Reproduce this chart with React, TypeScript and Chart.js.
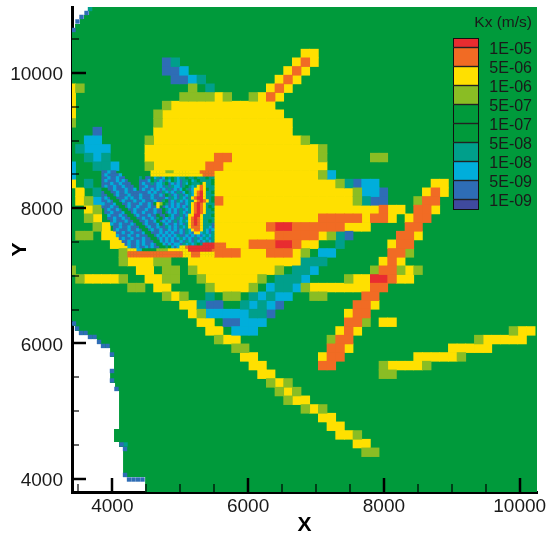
import React, { useEffect, useRef } from "react";
import { Chart, registerables } from "chart.js";

Chart.register(...registerables);

// ---- legend ----
const legendTitle = "Kx (m/s)";
const legendLabels = ["1E-05", "5E-06", "1E-06", "5E-07", "1E-07", "5E-08", "1E-08", "5E-09", "1E-09"];

// ---- colours ----
const RED = "#E82C30";
const ORANGE = "#F16B24";
const YELLOW = "#FFE000";
const OLIVE = "#8ABD24";
const GREEN = "#009A3B";
const TEAL = "#009F8B";
const CYAN = "#00AEDB";
const BLUE = "#2E6DB5";
const INDIGO = "#3F4A9E";
const legendColors = [RED, ORANGE, YELLOW, OLIVE, GREEN, GREEN, TEAL, CYAN, BLUE, INDIGO];

// ---- axes (metres) ----
const xMin = 3406;
const xMax = 10255;
const yMin = 3803;
const yMax = 10976;
const xTicks = [3500, 4000, 4500, 5000, 5500, 6000, 6500, 7000, 7500, 8000, 8500, 9000, 9500, 10000];
const yTicks = [4000, 4500, 5000, 5500, 6000, 6500, 7000, 7500, 8000, 8500, 9000, 9500, 10000, 10500];
const labelStep = 2000;

// ---- model grid (metres) ----
const gridX0 = 3459;
const gridY0 = 10993;
const cellW = 127.7;
const cellH = 128.2;

// ---- active model domain outline (metres) ----
const domainX = [3701, 10300, 10300, 4483, 4483, 4158, 4158, 4099, 4099, 4025, 4025, 4099, 4099, 4040, 4040, 3967, 3967, 4025, 4025, 3967, 3967, 3834, 3834, 3775, 3775, 3642, 3642, 3510, 3510, 3451, 3451, 3421, 3421, 3377, 3377, 3451, 3451, 3524, 3524, 3583, 3583, 3657, 3657, 3701];
const domainY = [11000, 11000, 3700, 3700, 4025, 4025, 4469, 4469, 4543, 4543, 4735, 4735, 5297, 5297, 5415, 5415, 5563, 5563, 5800, 5800, 5933, 5933, 5992, 5992, 6066, 6066, 6125, 6125, 6184, 6184, 6258, 6258, 6332, 6332, 10666, 10666, 10725, 10725, 10799, 10799, 10858, 10858, 10917, 10917];

// ---- grid cells by permeability class: [row, first column, last column] ----
type Run = [number, number, number];
const redRuns: Run[] = [[25, 23, 24], [27, 23, 24], [31, 34, 35]];
const orangeRuns: Run[] = [
  [6, 26, 26], [7, 25, 25], [8, 24, 24], [9, 23, 23], [10, 22, 22], [17, 16, 17], [18, 15, 16],
  [21, 41, 41], [22, 16, 16], [22, 40, 41], [23, 35, 35], [23, 39, 40], [24, 28, 32], [24, 34, 35], [24, 39, 40],
  [25, 22, 22], [25, 25, 30], [25, 38, 39], [26, 23, 27], [26, 37, 38], [27, 20, 22], [27, 25, 25], [27, 37, 38],
  [28, 16, 18], [28, 22, 24], [28, 36, 37], [29, 36, 36], [30, 35, 36], [31, 36, 36], [32, 34, 35], [33, 33, 34],
  [34, 32, 33], [35, 32, 33], [36, 31, 32], [37, 31, 31], [38, 30, 31], [39, 29, 30], [40, 29, 30], [41, 28, 29],
];
const yellowRuns: Run[] = [
  [5, 26, 27], [6, 25, 25], [6, 27, 27], [7, 24, 24], [7, 26, 26], [8, 23, 23], [8, 25, 25], [9, -1, -1], [9, 22, 22], [9, 24, 24],
  [10, -1, -1], [10, 16, 16], [10, 21, 21], [10, 23, 23], [11, -1, -1], [11, 11, 22], [12, -1, -1], [12, 10, 23], [13, 10, 24],
  [14, 9, 24], [15, 9, 25], [16, 8, 27], [17, 8, 15], [17, 18, 27], [18, 9, 14], [18, 17, 28], [19, 16, 27], [20, -1, -1], [20, 16, 29],
  [20, 41, 42], [21, 0, 0], [21, 16, 31], [21, 40, 40], [21, 42, 42], [22, 0, 0], [22, 17, 31], [23, 1, 1], [23, 16, 34], [23, 36, 37],
  [23, 41, 41], [24, 2, 2], [24, 16, 27], [24, 33, 33], [24, 36, 36], [24, 38, 38], [25, 3, 3], [25, 16, 21], [25, 31, 33], [26, 3, 4],
  [26, 16, 22], [26, 28, 28], [26, 39, 39], [27, 4, 5], [27, 16, 19], [27, 26, 27], [27, 36, 36], [28, 19, 21], [28, 25, 25], [29, 6, 8],
  [29, 13, 25], [29, 35, 35], [29, 37, 37], [30, 7, 8], [30, 14, 22], [30, 38, 38], [31, 1, 4], [31, 8, 9], [31, 15, 20], [31, 32, 33],
  [31, 37, 38], [32, 9, 10], [32, 16, 19], [32, 27, 33], [33, 11, 11], [34, 12, 13], [34, 34, 34], [35, 13, 13], [35, 31, 31], [36, 14, 15],
  [36, 35, 36], [37, 15, 16], [37, 30, 30], [37, 32, 32], [37, 51, 52], [38, 17, 18], [38, 47, 51], [39, 31, 31], [39, 43, 47], [40, 19, 20],
  [40, 28, 28], [40, 39, 43], [41, 20, 21], [41, 36, 39], [42, 21, 22], [43, 23, 23], [44, 24, 24], [45, 25, 26], [46, 27, 27], [47, 28, 29],
  [48, 29, 30], [49, 30, 31], [50, 32, 33],
];
const oliveRuns: Run[] = [
  [9, 0, 0], [9, 13, 13], [10, 12, 15], [10, 17, 17], [10, 20, 20], [11, 10, 10], [12, 9, 9], [13, -1, -1], [13, 9, 9], [15, 8, 8], [15, 26, 26],
  [16, 28, 28], [17, 28, 28], [17, 34, 35], [18, 8, 8], [19, 28, 28], [20, 30, 30], [21, 32, 32], [22, 1, 1], [22, 32, 32], [22, 39, 39],
  [23, 2, 2], [24, 1, 1], [25, 2, 2], [26, 0, 1], [26, 29, 29], [28, 5, 5], [28, 26, 26], [28, 38, 38], [29, 5, 5], [29, 9, 10], [30, -1, -1],
  [30, 10, 11], [30, 13, 13], [30, 23, 23], [30, 34, 34], [30, 37, 37], [30, 39, 39], [31, 0, 0], [31, 5, 5], [31, 10, 11], [31, 14, 14],
  [31, 21, 21], [31, 31, 31], [32, 6, 7], [32, 15, 15], [32, 20, 20], [32, 26, 26], [33, 10, 10], [33, 12, 12], [33, 17, 18], [33, 27, 28],
  [35, 14, 14], [36, 33, 33], [37, 50, 50], [38, 16, 16], [38, 29, 29], [38, 46, 46], [39, 18, 19], [40, 44, 44], [41, 35, 35], [41, 40, 40],
  [42, 35, 36], [43, 22, 22], [43, 24, 24], [44, 23, 23], [44, 25, 25], [45, 24, 24], [46, 26, 26], [46, 28, 28], [49, 32, 32], [51, 33, 34],
];
const tealRuns: Run[] = [
  [6, 11, 11], [8, 14, 14], [9, 15, 15], [16, 0, 0], [17, 1, 1], [17, 3, 3], [18, 2, 3], [20, 1, 1], [20, 31, 31], [21, 2, 2], [22, 33, 33],
  [26, 30, 30], [27, 30, 30], [29, 26, 28], [30, 25, 26], [31, 23, 25], [32, 23, 24], [33, 15, 15], [33, 20, 20], [33, 22, 22], [34, 14, 14],
  [34, 19, 19], [34, 21, 21], [35, 20, 21],
];
const cyanRuns: Run[] = [
  [7, 12, 12], [8, 13, 13], [15, 1, 2], [16, 1, 3], [17, 2, 2], [18, -1, -1], [18, 4, 4], [19, -1, -1], [19, 29, 29], [20, 33, 34], [21, 33, 34],
  [22, 2, 2], [28, 28, 29], [30, 27, 27], [31, 26, 26], [32, 22, 22], [32, 25, 25], [33, 21, 21], [33, 23, 24], [34, 20, 20], [34, 22, 22],
  [35, 15, 19], [36, 19, 21], [37, 18, 20],
];
const blueRuns: Run[] = [
  [6, 10, 10], [7, 10, 11], [8, 11, 12], [14, 2, 2], [20, 32, 32], [21, 35, 35], [22, 34, 35], [26, 31, 31], [34, 15, 16], [34, 23, 23], [35, 22, 22],
  [36, 17, 18],
];

// ---- one-third-size cells along the domain edge (metres): [x, y] ----
const edgeBlue: [number, number][] = [
  [3620, 10888], [3546, 10829], [3487, 10762], [3428, 10636], [3435, 6295], [3480, 6221], [3539, 6155], [3605, 6155], [3671, 6096], [3737, 6096],
  [3804, 6022], [3863, 5963], [3929, 5963], [3995, 5837], [3995, 5593], [3995, 5452], [4061, 5327], [4135, 4506], [4187, 4439], [4187, 4055],
  [4246, 3988], [4312, 3988], [4378, 3988], [4444, 3988],
];
const edgeTeal: [number, number][] = [[3671, 10947], [4194, 4506]];

// ---- locally refined cells, read row by row; first cell is grid column 3, row 19 ----
const refineCol0 = 3;
const refineRow0 = 19;
const refineRows = [
  "bbcbb............yyyyyvvvyyyyyyyyyooooo",
  "bcbbbbc..........yyyyyyyyyyyyyyyyyyoooo",
  "bbcbbcbb.....tgbbgctbcgtgtcttgttgtttgtt",
  "bcbbbcbcb....bbbcgtbcbtcgtcbttgctgttttg",
  "bbbcbbcbbb...bcbbtbcctgbcbcbtcgtttgyttg",
  "bcbbcbbcbbb..bbcbbbccbtbtccbtgtctyoyttt",
  "ggbbcbbbcbbc.bcbbcbcbcbtbcbcgtbcyyoygtt",
  "bggbbcbbcbbbbbbbcbcbbtcbcbtbcgtcyoryttg",
  "bbggbcbbbcbbbcbbbcbbcbgtbcbtbctcyoryttt",
  "bcbggbbbcbcbbcbbbcbbbbcbtcbtcbtyorryttg",
  "bbcbggbcbbbcbbcbbbcbbtgbcbtcbcttyoroytg",
  "cbbbcggbbcbbbcbbcbgyvgtbcbcbbctyoroyttt",
  "bbbcbbggbcbbcbbbcbbygbcbcbcbcbtyoroytgt",
  ".bcbbcbggbbcbbbcbbcbbgtcbcbtbctyoroyttg",
  ".bbcbbbcggbcbbcbbbcbbgbcbcbtcbtyoroyttt",
  "..cbbbcbbggbcbbbcbbgbbgtcbbtbcyyrrytttg",
  "..bbcbbcbbggbbcbbcbtgbcbcbtcbtyoroytttt",
  "...bcbbbcbbggbbcbbcgbcbcbtbctcyoroyttgt",
  "...cbbcbbbcbggbcbbbcgbcbbcbcbtyoroytttb",
  "....bbcbbcbbbggbcbbcbbtcbcbtctyoooyttcb",
  "....bcbbbcbbcbggbcbbcbbcbcbcbtcyooytcbc",
  ".....bbcbbcbbbcggbbbcbcbcbbcbtcbyyctcbt",
  ".....cbbbcbbcbbbggbcbcbcbctbbcbcbcbctct",
  "......bcbbcbbbcbbggbcbcbcbctcbcbtbctcbt",
  ".......bbcbbcbcbbbggcbcbcbbcbtcbtcbctct",
  "........bcbbcbcbbcbggcbcbccbtctctgtrrrroooo",
  ".........cbbcbbcbcbbggtgcbcyyorrrrrrrrroooo",
  ".........yyyccgggggvvvvyyyyyyyrrrrrrrro",
  ".........oooooooooooooooooooyyyoooyyyyy",
  ".........oooooooooooooooooooyyyoooyyyyy",
];
const refineKey: Record<string, string> = { r: RED, o: ORANGE, y: YELLOW, v: OLIVE, g: GREEN, t: TEAL, c: CYAN, b: BLUE };

type P = { x: number; y: number };

function runsToPoints(runs: Run[]): P[] {
  const out: P[] = [];
  for (const [row, a, b] of runs) {
    for (let c = a; c <= b; c++) {
      out.push({ x: gridX0 + (c + 0.5) * cellW, y: gridY0 - (row + 0.5) * cellH });
    }
  }
  return out;
}

function refinedPoints(letter: string): P[] {
  const out: P[] = [];
  const w = cellW / 3;
  const h = cellH / 3;
  const x0 = gridX0 + refineCol0 * cellW;
  const y0 = gridY0 - refineRow0 * cellH;
  refineRows.forEach((line, n) => {
    for (let m = 0; m < line.length; m++) {
      if (line[m] === letter) out.push({ x: x0 + (m + 0.5) * w, y: y0 - (n + 0.5) * h });
    }
  });
  return out;
}

const cellDataset = (data: P[], color: string, side: number, order: number) => ({
  data,
  pointStyle: "rect",
  pointRadius: side / Math.SQRT2,
  pointBackgroundColor: color,
  pointBorderWidth: 0,
  pointHoverRadius: side / Math.SQRT2,
  showLine: false,
  order,
});

const FONT = "'Liberation Sans', Arial, sans-serif";

const decorations = {
  id: "decorations",
  afterDatasetsDraw(chart: any) {
    const { ctx, chartArea, scales } = chart;
    ctx.save();
    // inward tick marks on both axes
    ctx.strokeStyle = "#000";
    for (const t of scales.x.ticks) {
      const major = t.value % labelStep === 0;
      const p = Math.round(scales.x.getPixelForValue(t.value));
      ctx.lineWidth = major ? 2.5 : 1.2;
      ctx.beginPath();
      ctx.moveTo(p, chartArea.bottom);
      ctx.lineTo(p, chartArea.bottom - (major ? 14 : 8));
      ctx.stroke();
    }
    for (const t of scales.y.ticks) {
      const major = t.value % labelStep === 0;
      const p = Math.round(scales.y.getPixelForValue(t.value));
      ctx.lineWidth = major ? 2.5 : 1.2;
      ctx.beginPath();
      ctx.moveTo(chartArea.left, p);
      ctx.lineTo(chartArea.left + (major ? 14 : 7), p);
      ctx.stroke();
    }
    // colour key
    const left = 453;
    const width = 25;
    const top = 38;
    const step = 19;
    const half = step / 2;
    let y = top;
    legendColors.forEach((c, i) => {
      const h = i === 0 || i === legendColors.length - 1 ? half : step;
      ctx.fillStyle = c;
      ctx.fillRect(left, y, width, h);
      y += h;
    });
    ctx.strokeStyle = "#111";
    ctx.lineWidth = 1;
    ctx.strokeRect(left + 0.5, top + 0.5, width, y - top);
    ctx.fillStyle = "#1a1a1a";
    ctx.font = `16px ${FONT}`;
    ctx.textAlign = "right";
    ctx.textBaseline = "middle";
    legendLabels.forEach((label, i) => {
      const ly = top + half + i * step;
      ctx.strokeStyle = "#222";
      ctx.lineWidth = 1.4;
      ctx.beginPath();
      ctx.moveTo(left, ly);
      ctx.lineTo(left + width, ly);
      ctx.stroke();
      ctx.fillText(label, 532, ly + 2.5);
    });
    ctx.font = `15.5px ${FONT}`;
    ctx.fillText(legendTitle, 532, 23);
    ctx.restore();
  },
};

export default function App() {
  const ref = useRef<HTMLCanvasElement>(null);
  useEffect(() => {
    const domain = domainX.map((x, i) => ({ x, y: domainY[i] }));
    const classes: [Run[], string][] = [
      [yellowRuns, YELLOW],
      [orangeRuns, ORANGE],
      [redRuns, RED],
      [oliveRuns, OLIVE],
      [tealRuns, TEAL],
      [cyanRuns, CYAN],
      [blueRuns, BLUE],
    ];
    const datasets: any[] = [
      {
        data: domain,
        showLine: true,
        fill: "shape",
        backgroundColor: GREEN,
        borderWidth: 0,
        borderColor: GREEN,
        pointRadius: 0,
        tension: 0,
        order: 100,
      },
    ];
    classes.forEach(([runs, color], i) => datasets.push(cellDataset(runsToPoints(runs), color, 9.4, i === 0 ? 60 : 50)));
    Object.keys(refineKey).forEach((k) => datasets.push(cellDataset(refinedPoints(k), refineKey[k], 3.3, 20)));
    datasets.push(cellDataset(edgeBlue.map(([x, y]) => ({ x, y })), BLUE, 4.4, 10));
    datasets.push(cellDataset(edgeTeal.map(([x, y]) => ({ x, y })), TEAL, 4.4, 10));

    const chart = new Chart(ref.current!, {
      type: "scatter",
      data: { datasets },
      plugins: [decorations],
      options: {
        animation: false,
        responsive: false,
        events: [],
        layout: { autoPadding: false, padding: { top: 7, right: 12, left: 0, bottom: 0 } },
        plugins: { legend: { display: false }, tooltip: { enabled: false } },
        scales: {
          x: {
            type: "linear",
            min: xMin,
            max: xMax,
            afterFit: (s: any) => { s.height = 48; s.paddingLeft = 0; s.paddingRight = 0; },
            afterBuildTicks: (s: any) => { s.ticks = xTicks.map((value) => ({ value })); },
            grid: { display: false, drawTicks: false },
            border: { display: true, color: "#000", width: 3 },
            title: { display: true, text: "X", color: "#000", font: { family: FONT, size: 21, weight: "bold" }, padding: { top: 0, bottom: 2 } },
            ticks: {
              autoSkip: false,
              maxRotation: 0,
              padding: 3,
              color: "#1a1a1a",
              font: { family: FONT, size: 19 },
              callback: (v: any) => (Number(v) % labelStep === 0 ? String(v) : ""),
            },
          },
          y: {
            type: "linear",
            min: yMin,
            max: yMax,
            afterFit: (s: any) => { s.width = 72; s.paddingTop = 0; s.paddingBottom = 0; },
            afterBuildTicks: (s: any) => { s.ticks = yTicks.map((value) => ({ value })); },
            grid: { display: false, drawTicks: false },
            border: { display: true, color: "#000", width: 3 },
            title: { display: true, text: "Y", color: "#000", font: { family: FONT, size: 21, weight: "bold" }, padding: { top: 8, bottom: 0 } },
            ticks: {
              autoSkip: false,
              padding: 9,
              labelOffset: 2,
              color: "#1a1a1a",
              font: { family: FONT, size: 19 },
              callback: (v: any) => (Number(v) % labelStep === 0 ? String(v) : ""),
            },
          },
        },
      } as any,
    });
    return () => chart.destroy();
  }, []);
  return (
    <div style={{ position: "fixed", left: 0, top: 0, width: 549, height: 540, background: "#fff" }}>
      <canvas ref={ref} width={549} height={540} style={{ display: "block" }} />
    </div>
  );
}
